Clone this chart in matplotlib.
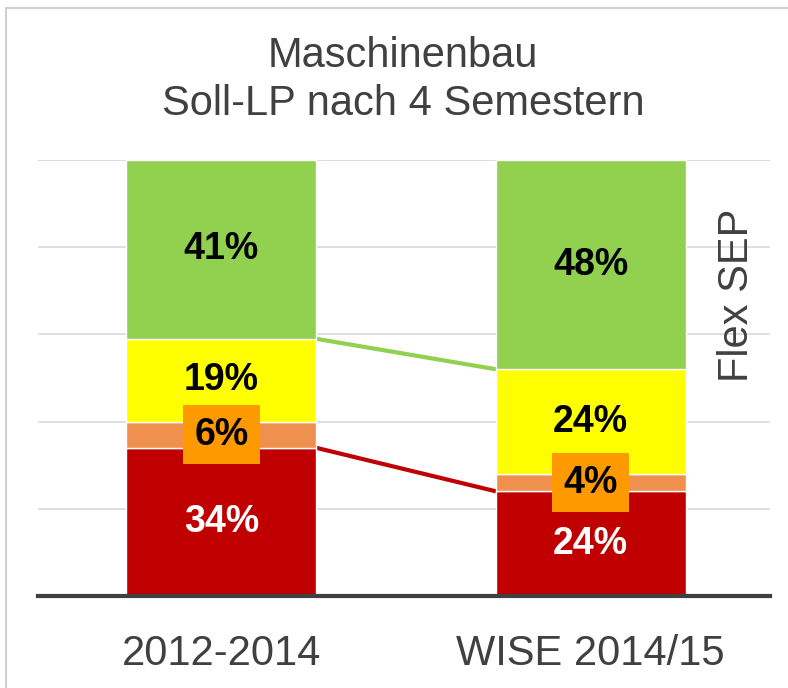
import matplotlib
matplotlib.use("Agg")
import matplotlib.pyplot as plt
from matplotlib.patches import Rectangle

categories = ["2012-2014", "WISE 2014/15"]
red_vals = [34, 24]
orange_vals = [6, 4]
yellow_vals = [19, 24]
green_vals = [41, 48]
title_lines = ["Maschinenbau", "Soll-LP nach 4 Semestern"]
side_label = "Flex SEP"

plt.rcParams['font.family'] = ['Liberation Sans', 'DejaVu Sans']

C_RED = "#C00000"
C_ORANGE = "#F0904F"
C_YELLOW = "#FFFF00"
C_GREEN = "#92D050"
C_BOX = "#FF9900"
C_TEXT = "#404040"

fig = plt.figure(figsize=(7.88, 6.88), dpi=100)
# outer frame
fig.patches.append(Rectangle((6/788, 0 - 0.01), 1.0, (688 - 8) / 688 + 0.01,
                             transform=fig.transFigure, fill=False,
                             edgecolor="#D0D0D0", linewidth=1.5))

ax = fig.add_axes([38/788, (688-596)/688, (770-38)/788, (596-160)/688])
x = list(range(len(categories)))
width = 0.513

bottoms = [0] * len(x)
segments = [(red_vals, C_RED), (orange_vals, C_ORANGE),
            (yellow_vals, C_YELLOW), (green_vals, C_GREEN)]
tops = []
for vals, col in segments:
    ax.bar(x, vals, width, bottom=bottoms, color=col, edgecolor="white",
           linewidth=1.0, zorder=3)
    bottoms = [b + v for b, v in zip(bottoms, vals)]
    tops.append(list(bottoms))

# connector lines
red_top = tops[0]
yellow_top = tops[2]
ax.plot([x[0] + width/2, x[1] - width/2], [red_top[0], red_top[1]],
        color=C_RED, linewidth=3, zorder=2, solid_capstyle='butt')
ax.plot([x[0] + width/2, x[1] - width/2], [yellow_top[0], yellow_top[1]],
        color=C_GREEN, linewidth=3, zorder=2, solid_capstyle='butt')

# labels
fs = 27
bottoms = [0] * len(x)
for si, (vals, col) in enumerate(segments):
    for i, v in enumerate(vals):
        yc = bottoms[i] + v / 2
        kw = dict(ha='center', va='center', fontsize=fs, fontweight='bold',
                  zorder=5)
        if si == 0:
            ax.text(x[i], yc, f"{v}%", color="white", **kw)
        elif si == 1:
            ax.text(x[i], yc, f"{v}%", color="black",
                    bbox=dict(boxstyle="square,pad=0.3", facecolor=C_BOX,
                              edgecolor="none"), **kw)
        else:
            ax.text(x[i], yc, f"{v}%", color="black", **kw)
    bottoms = [b + v for b, v in zip(bottoms, vals)]

ax.set_ylim(0, 100)
ax.set_xlim(-0.496, 1.485)
ax.set_yticks([20, 40, 60, 80, 100])
ax.yaxis.grid(True, color="#D9D9D9", linewidth=1.2, zorder=0)
ax.set_axisbelow(True)
ax.tick_params(axis='y', left=False, labelleft=False)
ax.tick_params(axis='x', bottom=False, labelsize=30, labelcolor=C_TEXT, pad=24)
ax.set_xticks(x)
ax.set_xticklabels(categories)
for s in ['top', 'right', 'left']:
    ax.spines[s].set_visible(False)
ax.spines['bottom'].set_color(C_TEXT)
ax.spines['bottom'].set_linewidth(3)
ax.spines['bottom'].set_zorder(6)

fig.text(403/788, 1 - 56/688, title_lines[0], ha='center', va='center',
         fontsize=30, color=C_TEXT)
fig.text(403/788, 1 - 104/688, title_lines[1], ha='center', va='center',
         fontsize=30, color=C_TEXT)
fig.text(737/788, 1 - 295/688, side_label, ha='center', va='center',
         rotation=90, fontsize=30, color=C_TEXT)

fig.savefig("out.png", dpi=100)
